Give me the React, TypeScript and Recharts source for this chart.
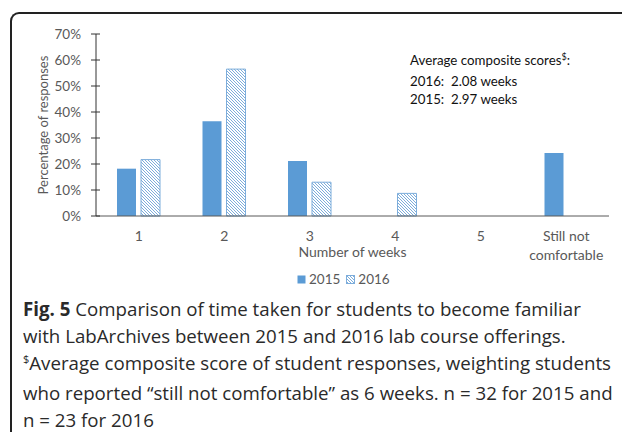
import { BarChart, Bar, XAxis, YAxis, Legend } from 'recharts';

const categories = ['1', '2', '3', '4', '5', 'Still not comfortable'];
const values2015 = [18.2, 36.4, 21.2, 0, 0, 24.2];
const values2016 = [21.7, 56.5, 13.0, 8.7, 0, 0];
const yTicks = [0, 10, 20, 30, 40, 50, 60, 70];

const BLUE = '#5B9BD5';
const HATCH = '#7DADDB';
const GREY = '#595959';
const FONT = 'Lato, "Open Sans", sans-serif';

const data = categories.map((c, i) => ({
  week: c,
  y2015: values2015[i],
  y2016: values2016[i],
}));

function XTick({ x, y, payload }: any) {
  const words = String(payload.value) === 'Still not comfortable' ? ['Still not', 'comfortable'] : [String(payload.value)];
  return (
    <text x={x} y={y + 17} textAnchor="middle" fill={GREY} fontSize={14} fontFamily={FONT}>
      {words.map((w, i) => (
        <tspan key={i} x={x} dy={i === 0 ? 0 : 18.5}>
          {w}
        </tspan>
      ))}
    </text>
  );
}

function YTick({ x, y, payload }: any) {
  return (
    <g>
      <line x1={x + 10} x2={x + 19} y1={y} y2={y} stroke="#333" strokeWidth={1} />
      <text x={x} y={y} dy="0.35em" textAnchor="end" fill={GREY} fontSize={13.5} fontFamily={FONT}>
        {`${payload.value}%`}
      </text>
    </g>
  );
}

function LegendContent() {
  const items = [
    { label: '2015', fill: BLUE },
    { label: '2016', fill: 'url(#hatch)' },
  ];
  return (
    <div style={{ display: 'flex', fontFamily: FONT, fontSize: 13.5, color: GREY }}>
      {items.map((it) => (
        <span key={it.label} style={{ display: 'inline-flex', alignItems: 'center', marginRight: 6 }}>
          <svg width={9} height={9} style={{ marginRight: 3 }}>
            <rect x={0.5} y={0.5} width={8} height={8} fill={it.fill} stroke={it.label === '2016' ? HATCH : 'none'} />
          </svg>
          {it.label}
        </span>
      ))}
    </div>
  );
}

export default function App() {
  return (
    <div style={{ position: 'absolute', left: 0, top: 0, width: 622, height: 432, overflow: 'hidden', background: '#fff' }}>
      <div
        style={{
          position: 'absolute',
          left: 10,
          top: 12,
          width: 700,
          height: 500,
          borderTop: '2px solid #222',
          borderLeft: '2px solid #222',
          borderTopLeftRadius: 9,
        }}
      />
      <div style={{ position: 'absolute', left: 0, top: 0 }}>
        <BarChart
          width={622}
          height={266}
          data={data}
          margin={{ top: 34, right: 13, left: 0, bottom: 0 }}
          barSize={19}
          barGap={5}
        >
          <defs>
            <pattern id="hatch" patternUnits="userSpaceOnUse" width={3} height={3}>
              <rect width={3} height={3} fill="#fff" />
              <path d="M-1,-1 L4,4 M-1,2 L1,4 M2,-1 L4,1" stroke={HATCH} strokeWidth={1} />
            </pattern>
          </defs>
          <XAxis
            dataKey="week"
            height={50}
            interval={0}
            tickLine={false}
            tick={<XTick />}
            axisLine={{ stroke: GREY }}
            label={{ value: 'Number of weeks', position: 'center', dy: 11, fill: GREY, fontSize: 14, fontFamily: FONT }}
          />
          <YAxis
            width={96}
            domain={[0, 70]}
            ticks={yTicks}
            interval={0}
            tickSize={5}
            tickMargin={10}
            tickLine={false}
            tick={<YTick />}
            axisLine={{ stroke: '#333' }}
            label={{
              value: 'Percentage of responses',
              angle: -90,
              position: 'center',
              dx: -5,
              fill: GREY,
              fontSize: 13,
              fontFamily: FONT,
            }}
          />
          <Legend
            layout="horizontal"
            align="center"
            verticalAlign="middle"
            wrapperStyle={{ top: 271, left: 297, width: 120, height: 18 }}
            content={<LegendContent />}
          />
          <Bar dataKey="y2015" name="2015" fill={BLUE} isAnimationActive={false} />
          <Bar dataKey="y2016" name="2016" fill="url(#hatch)" stroke={HATCH} strokeWidth={1} isAnimationActive={false} />
        </BarChart>
      </div>
      <div
        style={{
          position: 'absolute',
          left: 410,
          top: 51,
          fontFamily: FONT,
          fontSize: 13.3,
          lineHeight: '18.5px',
          color: '#111',
          whiteSpace: 'nowrap',
        }}
      >
        <div>
          Average composite scores<span style={{ fontSize: 9, position: 'relative', top: -5 }}>$</span>:
        </div>
        <div>2016:&nbsp; 2.08 weeks</div>
        <div>2015:&nbsp; 2.97 weeks</div>
      </div>
      <div
        style={{
          position: 'absolute',
          left: 23,
          top: 295,
          width: 600,
          fontFamily: '"Open Sans", sans-serif',
          fontSize: 18.7,
          lineHeight: '27px',
          color: '#2a2a2a',
          whiteSpace: 'nowrap',
        }}
      >
        <div>
          <b>Fig. 5</b> Comparison of time taken for students to become familiar
        </div>
        <div>with LabArchives between 2015 and 2016 lab course offerings.</div>
        <div>
          <span style={{ fontSize: 11, position: 'relative', top: -7 }}>$</span>Average composite score of student responses, weighting students
        </div>
        <div>who reported “still not comfortable” as 6 weeks. n = 32 for 2015 and</div>
        <div>n = 23 for 2016</div>
      </div>
    </div>
  );
}
